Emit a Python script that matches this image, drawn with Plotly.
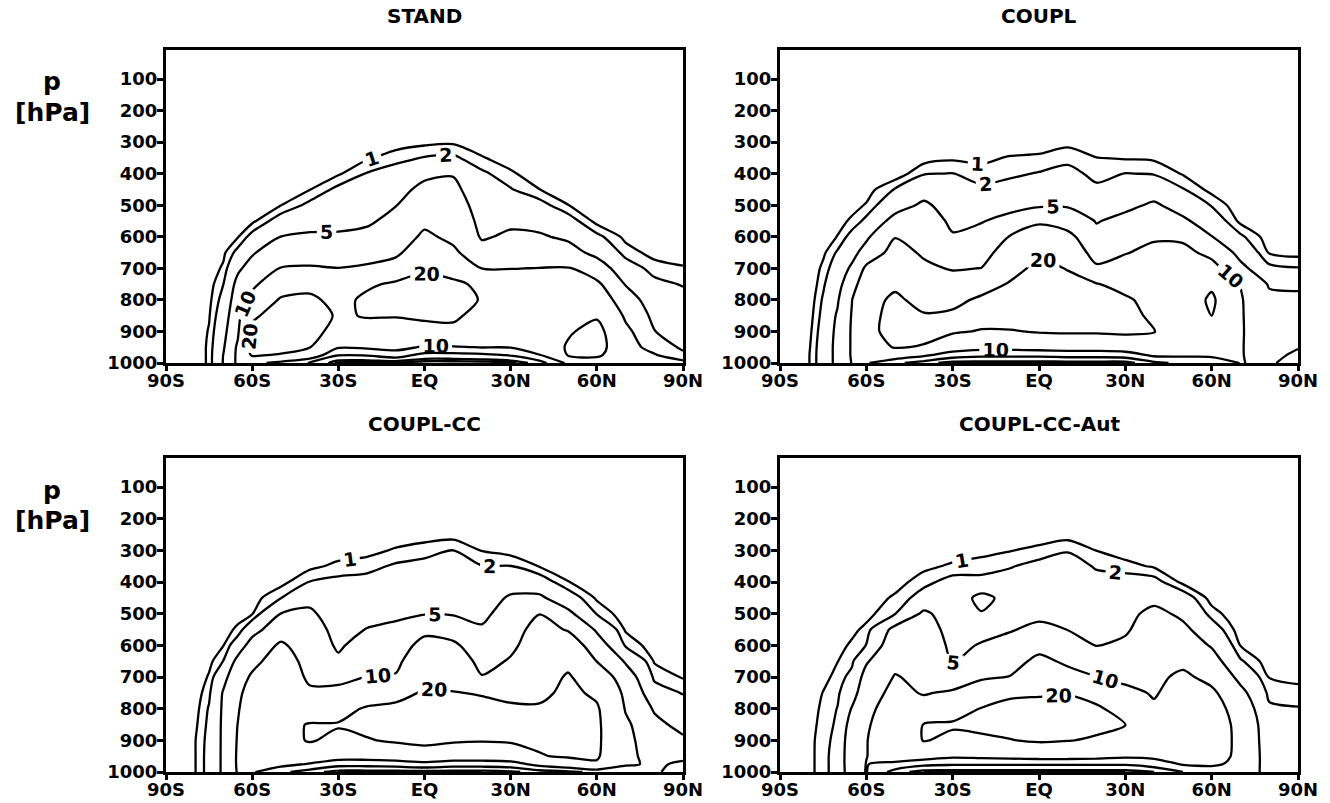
import plotly.graph_objects as go
import numpy as np

# ---------------- data ----------------
LAT = [-90, -80, -75, -70, -65, -60, -50, -40, -30, -20, -10, 0, 10, 20, 30, 40, 50, 60, 70, 80, 90]
P = [200, 250, 300, 350, 400, 450, 500, 550, 600, 650, 700, 750, 800, 850, 900, 950, 975, 1000]
LEVELS = [1, 2, 5, 10, 20]
X_TICKS = [-90, -60, -30, 0, 30, 60, 90]
X_TICK_TEXT = ['90S', '60S', '30S', 'EQ', '30N', '60N', '90N']
Y_TICKS = [100, 200, 300, 400, 500, 600, 700, 800, 900, 1000]
Y_TICK_TEXT = ['100', '200', '300', '400', '500', '600', '700', '800', '900', '1000']
TITLES = ['STAND', 'COUPL', 'COUPL-CC', 'COUPL-CC-Aut']

# one list per latitude column (values from 200 hPa down to 1000 hPa)
STAND = [
    [0]*18,
    [0,0,0,0,0,0,0,0,0,0,0,0,0,0.1,0.2,0.3,0.3,0.3],
    [0,0,0,0,0,0,0,0,0.1,0.2,0.35,0.5,0.7,0.9,1.1,1.2,1.2,1.2],
    [0,0,0,0,0,0,0.1,0.3,0.5,0.75,1.2,2.0,2.6,3.2,3.8,4.6,5.1,5.2],
    [0,0,0,0,0,0.1,0.3,0.5,0.9,2.5,4.4,6.0,7.0,8.0,9.2,10.8,11,11],
    [0,0,0,0,0,0.1,0.3,0.7,2.6,4.6,6.4,8.6,12,18.5,22,23,21,12],
    [0,0,0,0,0.1,0.4,0.97,2.9,5.05,7.6,10.2,15,21,24,25,24,19,8],
    [0,0,0,0.1,0.4,0.95,2.4,3.8,5.5,7.5,10.5,17,22,24,23,20.3,14,4.8],
    [0,0,0.1,0.4,0.85,2.4,3.2,4.2,5.4,7.2,10.1,13.5,17,19,17,10.5,5.2,0.5],
    [0,0.1,0.3,0.85,2.1,2.9,3.7,4.5,5.9,7.8,10.8,18.5,22,20.5,17,11,5.3,0.3],
    [0,0.1,0.5,1.5,2.8,3.7,4.9,6.0,7.0,8.7,13,21.5,23,20.5,16,12,7,0.5],
    [0,0.2,0.7,2.1,4.2,6.0,7.2,8.8,11,14.5,19,22.5,23,21.5,17,9.3,3.5,0.3],
    [0,0.2,0.8,2.3,4.8,5.8,6.8,7.8,8.8,11,15.5,22,23,21.5,18,9.5,3.5,0.3],
    [0,0.05,0.3,1.1,2.3,3.0,3.5,4.0,4.6,6.5,9.9,18,19.5,17,15,10.2,4,0.3],
    [0,0,0.1,0.4,1.2,2.1,3.2,4.3,5.6,7.2,9.9,12.5,14,15,14,10.3,5.3,0.5],
    [0,0,0,0,0.3,1.02,2.6,3.9,5.4,7.0,10.1,12.5,14,15,15,13,9.7,3],
    [0,0,0,0,0,0.3,1.03,2.8,4.4,6.4,10.3,13,15,16.5,19,21,20.5,11],
    [0,0,0,0,0,0,0.2,0.6,2.4,4.0,7.0,11,14,19,23,24,22,14],
    [0,0,0,0,0,0,0,0.2,0.7,1.5,2.9,4.8,6.8,9.0,11.5,12.5,12,11],
    [0,0,0,0,0,0,0,0,0.2,0.6,1.5,2.4,3.2,4.0,5.1,8,10.5,11],
    [0,0,0,0,0,0,0,0,0,0.5,1.1,1.9,2.5,3.0,3.5,4.2,6,12],
]

COUPL = [
    [0]*18,
    [0,0,0,0,0,0,0,0,0,0,0,0,0.2,0.4,0.6,0.8,0.9,0.9],
    [0,0,0,0,0,0,0,0.1,0.4,0.75,1.3,1.75,2.2,2.5,2.8,3.0,3.0,3.0],
    [0,0,0,0,0,0.1,0.3,0.6,1.05,2.2,3.0,3.8,4.6,5.4,5.8,6.0,6.0,6.0],
    [0,0,0,0,0.1,0.3,0.6,1.2,2.6,3.8,5.6,7.5,9.9,10.3,10.5,10.5,10.5,10.2],
    [0,0,0,0,0.2,0.5,1.1,2.4,4.3,6.6,11,14,16,17,17.5,16,13,10.5],
    [0,0,0,0.1,0.3,2.1,3.6,6.2,9.8,12,14,18,22,23,23,20.5,14,6],
    [0,0,0.1,0.5,1.9,3.5,5.6,7.0,8.2,9.3,11,13.5,16.5,20.8,22,19.5,11,3],
    [0,0,0.2,0.8,2.05,2.8,3.5,4.3,5.3,6.8,9.6,12.5,17,22,21,14,7,1],
    [0,0,0.2,0.75,1.4,2.3,3.4,4.8,6.3,7.8,10.1,15,22,23,19.5,12,6,1],
    [0,0,0.3,1.1,1.75,2.6,3.9,6.2,10.3,13,16,21,24,24,19.5,12,6,1],
    [0,0,0.4,1.2,2.1,3.0,4.4,9.2,13,18.5,23,25,25,24,20.6,12.5,6,1],
    [0,0,0.7,1.6,2.5,3.4,4.6,7.5,11.5,15,19.5,23,24,23.5,21,13,6.5,1],
    [0,0,0.3,1.02,1.6,2.3,3.3,4.8,6.0,7.4,11,20.5,23,23,21,13,6.5,1],
    [0,0,0.2,0.9,2.05,3.0,4.2,6.0,7.6,9.7,12.5,16.5,21.5,22.5,21.5,14,7,1],
    [0,0,0.2,0.8,1.9,3.4,5.5,7.2,9.3,11.5,13,14.5,16.5,18.5,20.3,17,11,4],
    [0,0,0,0.2,0.9,2.1,3.6,5.6,9.0,11.5,13,14,14.5,15,15,14,11,6],
    [0,0,0,0,0.2,0.6,1.9,3.3,5.1,8.5,12,18.5,21.5,20,15,13,11,7],
    [0,0,0,0,0,0,0.2,0.7,2.3,3.8,6.0,9.9,10.4,10.4,10.4,10.3,10.2,10.1],
    [0,0,0,0,0,0,0,0.1,0.4,0.9,2.4,4.6,6.0,6.8,7.2,7.6,8.5,9.5],
    [0,0,0,0,0,0,0,0,0.1,0.6,2.1,4.2,6.0,7.0,7.6,9.7,11,11.5],
]

COUPL_CC = [
    [0]*18,
    [0,0,0,0,0,0,0,0,0,0,0.1,0.3,0.5,0.7,0.9,0.9,0.9,0.9],
    [0,0,0,0,0,0,0,0.1,0.3,0.65,1.15,1.7,2.15,2.35,2.5,2.6,2.6,2.6],
    [0,0,0,0,0,0.1,0.3,0.6,0.98,2.05,4.0,5.3,5.5,5.6,5.6,5.6,5.6,5.6],
    [0,0,0,0,0.1,0.3,0.6,1.2,3.2,6.0,7.5,8.6,9.4,10.1,10.4,10.6,10.6,10.4],
    [0,0,0,0,0.2,0.5,0.9,3.6,6.5,8.4,10.8,13,14.5,15.5,16,15,13,10.5],
    [0,0,0,0.2,0.6,1.95,5.05,7.5,10.8,13,14.5,15.5,16.5,17.5,17.5,16,12,6],
    [0,0,0.2,0.7,2.05,4.2,5.5,6.5,7.3,8.0,8.9,11,15,20.5,20.5,16,9.5,3],
    [0,0,0.4,1.3,2.4,3.0,3.5,4.0,4.5,5.6,8.0,12,17,20.5,18.5,13,6.5,1],
    [0,0.1,0.6,1.6,2.5,3.3,4.1,5.1,6.6,8.2,10.1,14.5,21,22,19.5,13,6.5,1],
    [0,0.3,1.15,2.2,3.0,3.7,4.4,5.7,7.0,8.5,10.5,17,22,23,21,14,7,1],
    [0,0.5,1.5,2.5,3.2,3.9,4.8,8.5,12,15,17.5,21,24,24,22,16,8,1],
    [0,0.5,2.05,2.8,3.4,4.0,4.7,7.5,11,14,17,20.3,23,23,21,14,7,1],
    [0,0.2,0.95,2.05,2.8,3.5,4.2,5.4,6.8,8.2,10.3,19.5,22,22,20.5,14,7,1],
    [0,0.1,0.5,2.05,3.6,5.4,6.6,7.8,8.9,10.5,13,17.5,21.5,22,21,15,7.5,1.5],
    [0,0,0.2,0.95,3.0,5.6,9.9,12,13,14,15.5,18,21,22,21.5,19.5,12,3],
    [0,0,0,0.3,1.05,3.0,5.8,9.6,13.5,17.5,21,22,22,22,22,21,15,4],
    [0,0,0,0,0.2,0.8,1.9,4.5,7.0,9.9,14,18.5,21,21.5,21.5,21,19,6],
    [0,0,0,0,0,0.1,0.3,0.85,1.8,4.6,7.0,8.5,9.6,11,11.5,11.5,11,6],
    [0,0,0,0,0,0,0,0.1,0.4,0.9,1.7,2.8,4.6,6.0,7.0,8.0,9.0,9.5],
    [0,0,0,0,0,0,0,0,0.1,0.4,0.9,1.9,2.8,3.9,5.6,8.5,11,11.5],
]

COUPL_CC_AUT = [
    [0]*18,
    [0,0,0,0,0,0,0,0,0,0,0.1,0.2,0.3,0.4,0.5,0.5,0.5,0.5],
    [0,0,0,0,0,0,0,0,0.1,0.3,0.6,1.05,1.3,1.5,1.7,1.75,1.75,1.75],
    [0,0,0,0,0,0,0.1,0.3,0.6,0.97,1.4,1.75,2.05,2.2,2.3,2.4,2.4,2.4],
    [0,0,0,0,0,0.1,0.3,0.7,1.2,1.7,2.5,3.5,5.2,6.5,7.5,7.8,7.8,7.6],
    [0,0,0,0,0.1,0.3,0.6,1.3,2.05,4.6,6.3,7.5,8.5,9.3,9.8,9.9,10.1,10.2],
    [0,0,0,0.1,0.5,1.2,1.95,6.0,7.5,8.7,10.3,11.5,13,14,14,12.5,9,3],
    [0,0,0.1,0.7,1.6,2.7,5.6,6.5,7.2,8.0,8.8,9.6,12.5,20.3,20.5,13,6,1],
    [0,0.1,0.4,1.2,2.6,2.9,3.4,3.9,4.3,4.7,6.5,10.8,16,21,18,11,5.5,1],
    [0,0.1,0.7,1.4,2.5,6.0,4.8,4.2,5.2,6.8,9.2,13.5,20.4,22,18.5,11.5,5.5,1],
    [0,0.2,0.95,1.9,2.7,3.8,3.9,4.8,6.0,7.7,10.2,18.5,22.5,23,19.7,12,5.5,1],
    [0,0.4,1.3,2.5,3.1,3.7,4.3,5.7,8.0,11.5,15,19,23,23.5,21,12.5,5.5,1],
    [0,0.5,1.9,2.7,3.3,3.9,4.4,4.95,7.0,9.0,12,19.5,23,23,20.3,12.5,5.5,1],
    [0,0.2,0.97,1.85,2.5,3.1,3.7,4.2,4.9,7.0,10.1,16,21.5,22,19,12,5.5,1],
    [0,0,0.4,1.4,2.8,3.5,4.0,4.6,5.6,7.0,8.6,11.5,16,20.2,18,11,5.5,1],
    [0,0,0.2,0.85,2.6,4.0,6.0,6.8,7.5,8.2,8.9,9.5,10.8,12,12.5,11.5,7,2],
    [0,0,0,0.2,0.7,3.0,4.3,5.8,7.2,8.8,11,12.5,13.5,14,14,13,10.5,5],
    [0,0,0,0,0.2,0.5,1.5,3.0,4.7,6.5,8.5,11,12.5,13,13,12.5,11,7],
    [0,0,0,0,0,0,0.1,0.4,0.97,2.2,4.0,6.0,7.5,8.5,8.7,8.7,8.5,8],
    [0,0,0,0,0,0,0,0,0.1,0.4,0.95,1.6,2.3,2.8,3.0,3.2,3.3,3.5],
    [0,0,0,0,0,0,0,0,0,0.3,0.75,1.3,2.1,2.5,2.7,2.8,2.8,2.8],
]

PANELS = [STAND, COUPL, COUPL_CC, COUPL_CC_AUT]

# ---------------- layout geometry ----------------
W, H = 1330, 803
X_DOMAINS = [(166, 683), (780, 1298)]
Y_DOMAINS = [(50, 363), (458, 772)]
FONT = 'DejaVu Sans'

fig = go.Figure()

for i, cols in enumerate(PANELS):
    z = np.array(cols, dtype=float).T  # rows = pressure, cols = latitude
    ax = '' if i == 0 else str(i + 1)
    for lev in LEVELS:
        fig.add_trace(go.Contour(
            x=LAT, y=P, z=z,
            xaxis='x' + ax, yaxis='y' + ax,
            autocontour=False,
            contours=dict(start=lev, end=lev, size=100, coloring='none',
                          showlabels=True,
                          labelfont=dict(family=FONT, size=19, color='black', weight='bold')),
            line=dict(color='black', width=2.3, smoothing=0.8),
            showscale=False, hoverinfo='skip',
        ))

layout = dict(width=W, height=H, margin=dict(l=0, r=0, t=0, b=0, autoexpand=False),
              paper_bgcolor='white', plot_bgcolor='white', showlegend=False)

annotations = []
for i in range(4):
    col, row = i % 2, i // 2
    x0, x1 = X_DOMAINS[col]
    y0, y1 = Y_DOMAINS[row]
    key = '' if i == 0 else str(i + 1)
    layout['xaxis' + key] = dict(
        domain=[x0 / W, x1 / W], anchor='y' + key, range=[-90, 90],
        tickvals=X_TICKS, ticktext=X_TICK_TEXT, ticks='outside', ticklen=5,
        tickwidth=3, tickcolor='black', showline=True, mirror=True,
        linewidth=3, linecolor='black', showgrid=False, zeroline=False,
        automargin=False, ticklabelstandoff=-6,
        tickfont=dict(family=FONT, size=18, color='black', weight='bold'))
    layout['yaxis' + key] = dict(
        domain=[1 - y1 / H, 1 - y0 / H], anchor='x' + key, range=[1000, 8],
        tickvals=Y_TICKS, ticktext=Y_TICK_TEXT, ticks='outside', ticklen=6,
        tickwidth=3, tickcolor='black', showline=True, mirror=True,
        linewidth=3, linecolor='black', showgrid=False, zeroline=False,
        automargin=False, ticklabelstandoff=-4,
        tickfont=dict(family=FONT, size=18, color='black', weight='bold'))
    annotations.append(dict(
        text=TITLES[i], x=(x0 + x1) / 2 / W, y=1 - (y0 - 34) / H,
        xref='paper', yref='paper', showarrow=False, xanchor='center', yanchor='middle',
        font=dict(family=FONT, size=20, color='black', weight='bold')))

for row in range(2):
    y0 = Y_DOMAINS[row][0]
    annotations.append(dict(text='p', x=52 / W, y=1 - (y0 + 32) / H, xref='paper', yref='paper',
                            showarrow=False, xanchor='center', yanchor='middle',
                            font=dict(family=FONT, size=25, color='black', weight='bold')))
    annotations.append(dict(text='[hPa]', x=52 / W, y=1 - (y0 + 62) / H, xref='paper', yref='paper',
                            showarrow=False, xanchor='center', yanchor='middle',
                            font=dict(family=FONT, size=25, color='black', weight='bold')))

layout['annotations'] = annotations
fig.update_layout(**layout)
fig.write_html('out.html')
